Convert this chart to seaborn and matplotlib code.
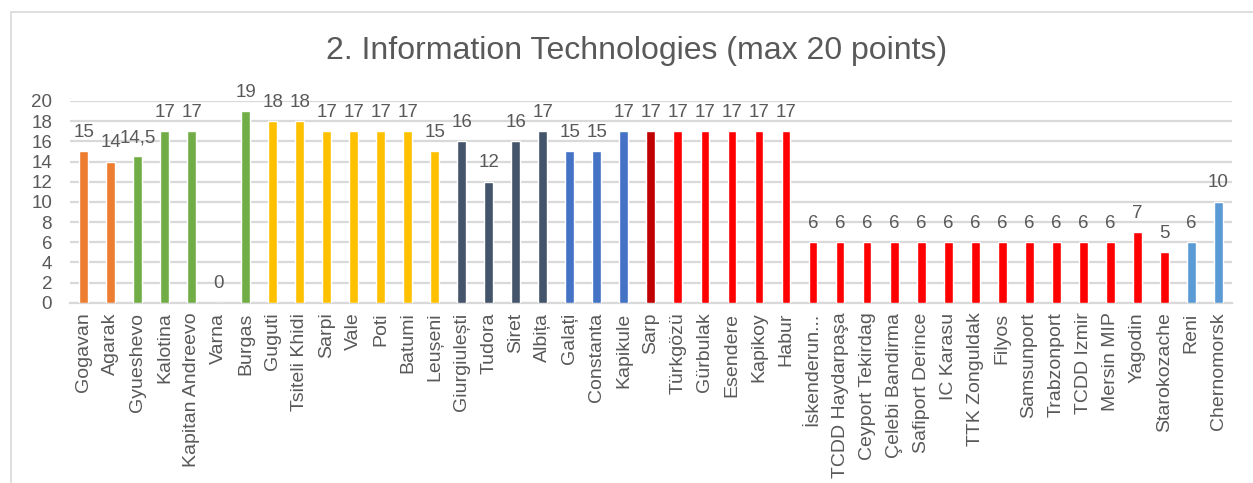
import matplotlib
matplotlib.use("Agg")
import matplotlib.pyplot as plt
import seaborn as sns
from matplotlib.patches import Rectangle

sns.set_theme(style="white")
plt.rcParams["font.family"] = ["Liberation Sans", "DejaVu Sans"]

# ---------- Data ----------
categories = [
    "Gogavan", "Agarak", "Gyueshevo", "Kalotina", "Kapitan Andreevo", "Varna", "Burgas",
    "Guguti", "Tsiteli Khidi", "Sarpi", "Vale", "Poti", "Batumi", "Leușeni",
    "Giurgiulești", "Tudora", "Siret", "Albița", "Galați", "Constanta", "Kapikule",
    "Sarp", "Türkgözü", "Gürbulak", "Esendere", "Kapikoy", "Habur", "İskenderun...",
    "TCDD Haydarpaşa", "Ceyport Tekirdag", "Çelebi Bandirma", "Safiport Derince",
    "IC Karasu", "TTK Zonguldak", "Filyos", "Samsunport", "Trabzonport", "TCDD Izmir",
    "Mersin MIP", "Yagodin", "Starokozache", "Reni", "Chernomorsk",
]
scores = [
    15, 14, 14.5, 17, 17, 0, 19,
    18, 18, 17, 17, 17, 17, 15,
    16, 12, 16, 17, 15, 15, 17,
    17, 17, 17, 17, 17, 17, 6,
    6, 6, 6, 6, 6, 6, 6, 6, 6, 6,
    6, 7, 5, 6, 10,
]
bar_colors = (
    ["#ED7D31"] * 2 + ["#70AD47"] * 5 + ["#FFC000"] * 7 + ["#44546A"] * 4
    + ["#4472C4"] * 3 + ["#C00000"] + ["#FF0000"] * 19 + ["#5B9BD5", "#5B9BD5"]
)
title = "2. Information Technologies (max 20 points)"

text_color = "#595959"
grid_color = "#D9D9D9"

# ---------- Plot ----------
fig = plt.figure(figsize=(12.53, 4.83), dpi=100)
ax = fig.add_axes([0.056, 0.373, 0.927, 0.418])

sns.barplot(x=categories, y=scores, hue=categories, palette=bar_colors,
            saturation=1, legend=False, width=0.33, ax=ax, zorder=3)

ax.set_ylim(0, 20)
ax.set_yticks(range(0, 21, 2))
ax.set_xlim(-0.5, len(categories) - 0.5)
ax.yaxis.grid(True, color=grid_color, linewidth=1.6, zorder=0)
ax.set_axisbelow(True)
for s in ["left", "right", "top"]:
    ax.spines[s].set_visible(False)
ax.spines["bottom"].set_color(grid_color)
ax.spines["bottom"].set_linewidth(1.6)
ax.tick_params(axis="y", length=0, colors=text_color, labelsize=13.5, pad=13)
ax.tick_params(axis="x", length=0, colors=text_color, labelsize=14, pad=7)
ax.set_xticks(range(len(categories)))
ax.set_xticklabels(categories, rotation=90)
ax.set_xlabel("")
ax.set_ylabel("")

for cont in ax.containers:
    labels = [f"{v:g}".replace(".", ",") for v in cont.datavalues]
    ax.bar_label(cont, labels=labels, padding=7.5, fontsize=13.5, color=text_color)

fig.text(0.508, 0.895, title, ha="center", va="center", fontsize=23, color=text_color)

fig.patches.append(Rectangle((0.009, -0.05), 1.2, 1.025, transform=fig.transFigure,
                             fill=False, edgecolor="#D9D9D9", linewidth=1.2))

fig.savefig("out.png", dpi=100)
